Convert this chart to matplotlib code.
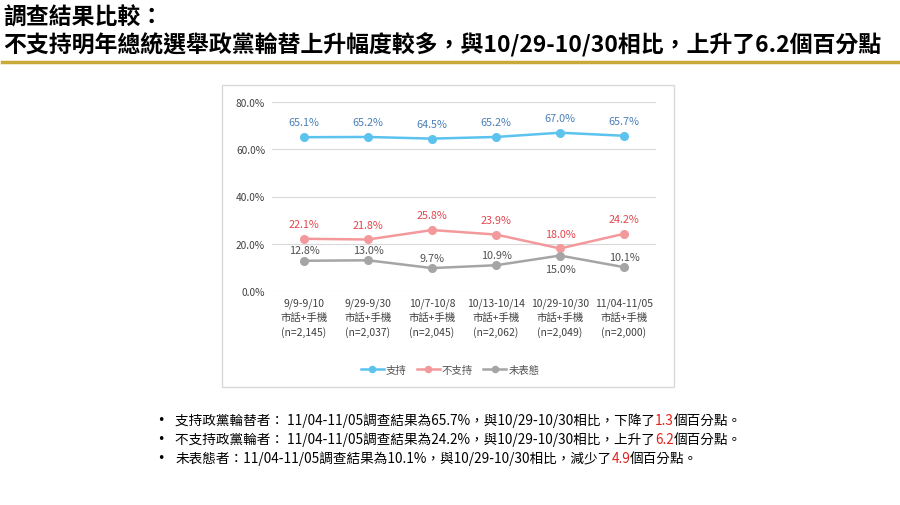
import matplotlib.pyplot as plt
from matplotlib.patches import Rectangle
from matplotlib.lines import Line2D

plt.rcParams['font.family'] = ['Noto Sans CJK TC', 'DejaVu Sans']

# chart data
periods = ["9/9-9/10", "9/29-9/30", "10/7-10/8", "10/13-10/14", "10/29-10/30", "11/04-11/05"]
samples = ["2,145", "2,037", "2,045", "2,062", "2,049", "2,000"]
support = [65.1, 65.2, 64.5, 65.2, 67.0, 65.7]
oppose = [22.1, 21.8, 25.8, 23.9, 18.0, 24.2]
undecided = [12.8, 13.0, 9.7, 10.9, 15.0, 10.1]
series_names = ["支持", "不支持", "未表態"]

title_lines = ["調查結果比較：",
               "不支持明年總統選舉政黨輪替上升幅度較多，與10/29-10/30相比，上升了6.2個百分點"]

# bullet notes, split into (text, is_red) pieces
notes = [
    [("支持政黨輪替者： 11/04-11/05調查結果為65.7%，與10/29-10/30相比，下降了", False), ("1.3", True), ("個百分點。", False)],
    [("不支持政黨輪者： 11/04-11/05調查結果為24.2%，與10/29-10/30相比，上升了", False), ("6.2", True), ("個百分點。", False)],
    [("未表態者：11/04-11/05調查結果為10.1%，與10/29-10/30相比，減少了", False), ("4.9", True), ("個百分點。", False)],
]

line_colors = ["#5BC3EE", "#F4999B", "#A5A5A5"]
label_colors = ["#4A7FB8", "#E2464F", "#505050"]

fig = plt.figure(figsize=(9, 5.06), dpi=100)

# title + gold rule
fig.text(0.004, 1 - 18 / 506, title_lines[0], fontsize=16.5, fontweight='bold', va='center', ha='left')
fig.text(0.004, 1 - 45 / 506, title_lines[1], fontsize=16.5, fontweight='bold', va='center', ha='left')
fig.add_artist(Line2D([0.002, 0.998], [1 - 63 / 506, 1 - 63 / 506], color="#C9A938", lw=2.5,
                      transform=fig.transFigure))

# chart frame
fig.add_artist(Rectangle((222 / 900, 1 - 388 / 506), (674 - 222) / 900, (388 - 86) / 506,
                         transform=fig.transFigure, fill=False, edgecolor="#D9D9D9", lw=1))

ax = fig.add_axes([272 / 900, 1 - 292 / 506, (656 - 272) / 900, (292 - 103) / 506])
x = list(range(len(periods)))

all_series = [support, oppose, undecided]
for vals, name, lc in zip(all_series, series_names, line_colors):
    ax.plot(x, vals, color=lc, lw=1.8, marker='o', markersize=5.5, label=name, zorder=3)

# data labels
for i, v in enumerate(support):
    ax.annotate(f"{v:.1f}%", (i, v), xytext=(0, 7), textcoords='offset points',
                ha='center', va='bottom', fontsize=7.8, color=label_colors[0])
for i, v in enumerate(oppose):
    ax.annotate(f"{v:.1f}%", (i, v), xytext=(0, 7), textcoords='offset points',
                ha='center', va='bottom', fontsize=7.8, color=label_colors[1])
for i, v in enumerate(undecided):
    # put the label under the point when it comes close to the red line
    if v > oppose[i] - 5:
        ax.annotate(f"{v:.1f}%", (i, v), xytext=(0, -6), textcoords='offset points',
                    ha='center', va='top', fontsize=7.8, color=label_colors[2])
    else:
        ax.annotate(f"{v:.1f}%", (i, v), xytext=(0, 4), textcoords='offset points',
                    ha='center', va='bottom', fontsize=7.8, color=label_colors[2])

ax.set_xlim(-0.5, len(periods) - 0.5)
ax.set_ylim(0, 80)
ax.set_yticks([0, 20, 40, 60, 80])
ax.set_yticklabels([f"{t:.1f}%" for t in [0, 20, 40, 60, 80]], fontsize=7.3, color="#404040")
ax.set_xticks(x)
ax.set_xticklabels([f"{p}\n市話+手機\n(n={n})" for p, n in zip(periods, samples)],
                   fontsize=7.5, color="#404040", linespacing=1.45)
ax.tick_params(length=0, pad=5)
ax.grid(axis='y', color="#D9D9D9", lw=0.8)
ax.set_axisbelow(True)
for s in ax.spines.values():
    s.set_visible(False)

fig.legend(loc='center', bbox_to_anchor=(0.5, 1 - 371 / 506), ncol=3, frameon=False,
           fontsize=7.5, handlelength=2.2, handletextpad=0.2, columnspacing=1.0,
           labelcolor="#505050", markerscale=0.8)

# bullet notes, each piece chained after the previous one
for k, pieces in enumerate(notes):
    y = 1 - (421 + 19 * k) / 506
    fig.text(157 / 900, y, "•", fontsize=9, va='center', ha='left', family='DejaVu Sans')
    last = None
    for txt, red in pieces:
        col = "#E0201B" if red else "black"
        if last is None:
            last = fig.text(175 / 900, y, txt, fontsize=9.8, va='center', ha='left', color=col)
        else:
            last = fig.text(0, 0, txt, fontsize=9.8, color=col)
            last.remove()
            last = ax.annotate(txt, xy=(1, 0), xycoords=prev, va='bottom', ha='left',
                               fontsize=9.8, color=col, annotation_clip=False)
        prev = last

fig.savefig("out.png", dpi=100)
